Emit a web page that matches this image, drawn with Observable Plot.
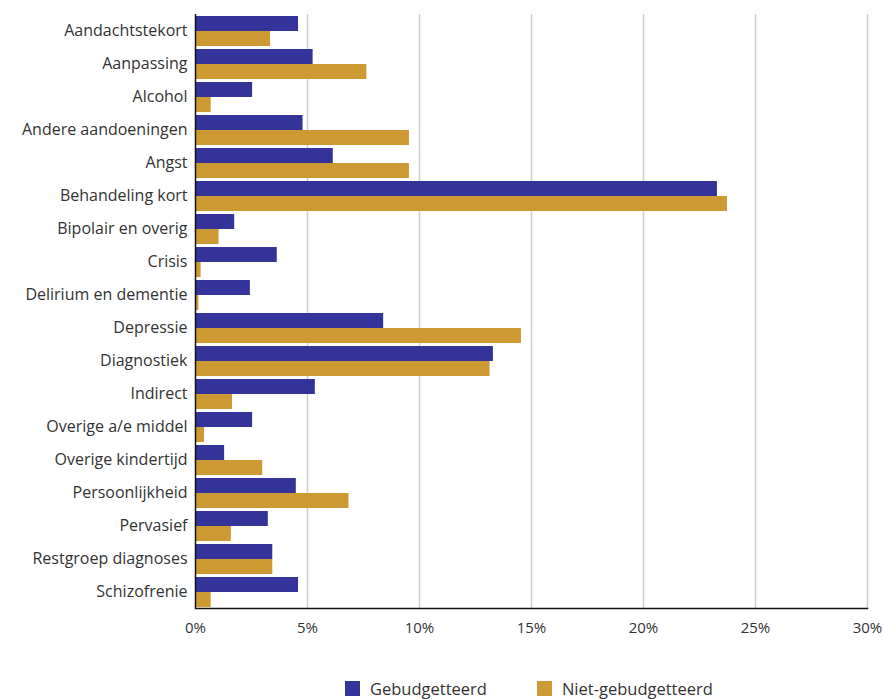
<!DOCTYPE html>
<html>
<head>
<meta charset="utf-8">
<script src="https://cdn.jsdelivr.net/npm/d3@7"></script>
<script src="https://cdn.jsdelivr.net/npm/@observablehq/plot@0.6"></script>
<style>
  body { margin: 0; background: #fff; font-family: "Open Sans", sans-serif; }
  #legend { display: flex; align-items: center; height: 22px; margin-top: 27px; padding-left: 345px; font-size: 16.5px; color: #333; }
  .sw { width: 15px; height: 15px; display: inline-block; margin-right: 10px; }
  .item { display: flex; align-items: center; }
  .item + .item { margin-left: 50px; }
</style>
</head>
<body>
<div id="chart"></div>
<div id="legend"></div>
<script>
const categories = [
  "Aandachtstekort", "Aanpassing", "Alcohol", "Andere aandoeningen", "Angst",
  "Behandeling kort", "Bipolair en overig", "Crisis", "Delirium en dementie",
  "Depressie", "Diagnostiek", "Indirect", "Overige a/e middel", "Overige kindertijd",
  "Persoonlijkheid", "Pervasief", "Restgroep diagnoses", "Schizofrenie"
];
const gebudgetteerd = [4.6, 5.25, 2.55, 4.8, 6.15, 23.3, 1.75, 3.65, 2.45, 8.4, 13.3, 5.35, 2.55, 1.3, 4.5, 3.25, 3.45, 4.6];
const nietGebudgetteerd = [3.35, 7.65, 0.7, 9.55, 9.55, 23.75, 1.05, 0.25, 0.15, 14.55, 13.15, 1.65, 0.4, 3.0, 6.85, 1.6, 3.45, 0.7];
const series = ["Gebudgetteerd", "Niet-gebudgetteerd"];
const colors = ["#333399", "#CC9933"];
const xTicks = [0, 5, 10, 15, 20, 25, 30];

const data = categories.flatMap((c, i) => [
  {cat: c, series: series[0], value: gebudgetteerd[i]},
  {cat: c, series: series[1], value: nietGebudgetteerd[i]}
]);

const chart = Plot.plot({
  width: 883,
  height: 650,
  marginLeft: 195,
  marginRight: 16,
  marginTop: 14,
  marginBottom: 42,
  style: {fontFamily: "Open Sans, sans-serif", fontSize: "15px", color: "#333", background: "#fff"},
  x: {domain: [0, 30], ticks: xTicks, tickFormat: d => d + "%", label: null},
  fy: {domain: categories, padding: 0, label: null},
  y: {domain: series, axis: null, paddingInner: 0, paddingOuter: 0.05},
  color: {domain: series, range: colors},
  marks: [
    Plot.ruleX(xTicks.slice(1), {stroke: "#cccccc", strokeWidth: 1.5}),
    Plot.barX(data, {fy: "cat", y: "series", x: "value", fill: "series"}),
    Plot.ruleX([0], {stroke: "#111", strokeWidth: 1.5}),
    Plot.frame({anchor: "bottom", facetAnchor: "bottom", stroke: "#111", strokeWidth: 1.5}),
    Plot.axisFy({anchor: "left", tickSize: 0, tickPadding: 8, fontSize: 16, label: null}),
    Plot.axisX({anchor: "bottom", ticks: xTicks, tickFormat: d => d + "%", tickSize: 0, tickPadding: 14, fontSize: 15, label: null})
  ]
});
document.getElementById("chart").appendChild(chart);

const legend = document.getElementById("legend");
series.forEach((s, i) => {
  const item = document.createElement("div");
  item.className = "item";
  const sw = document.createElement("span");
  sw.className = "sw";
  sw.style.background = colors[i];
  item.appendChild(sw);
  item.appendChild(document.createTextNode(s));
  legend.appendChild(item);
});
</script>
</body>
</html>
